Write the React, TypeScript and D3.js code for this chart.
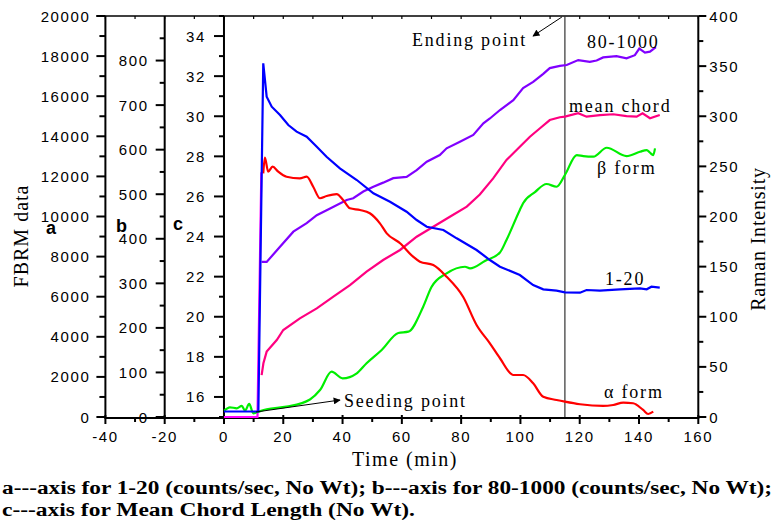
import React from "react";
import * as d3 from "d3";

// ---------- data (time in min, values on each series' own axis) ----------
const xTicks = [-40, -20, 0, 20, 40, 60, 80, 100, 120, 140, 160];
const aTicks = [0, 2000, 4000, 6000, 8000, 10000, 12000, 14000, 16000, 18000, 20000];
const bTicks = [0, 100, 200, 300, 400, 500, 600, 700, 800];
const cTicks = [16, 18, 20, 22, 24, 26, 28, 30, 32, 34];
const rTicks = [0, 50, 100, 150, 200, 250, 300, 350, 400];

// 1-20 counts (axis a)
const series120: [number, number][] = [
  [0, 275], [11.6, 275], [13.25, 17640], [14.4, 15975], [16.1, 15476], [18.9, 15062],
  [21.7, 14564], [24.5, 14230], [27.9, 13980], [31.3, 13481], [34.6, 12982], [39.1, 12404],
  [44.8, 11820], [50.4, 11157], [56.0, 10738], [61.6, 10239], [65.0, 9825], [68.4, 9491],
  [74.0, 9327], [78.5, 8912], [85.2, 8329], [89.7, 7830], [93.1, 7496], [99.8, 7082],
  [104.3, 6583], [107.7, 6368], [112.2, 6299], [115.0, 6219], [120.1, 6199], [122.3, 6334],
  [126.8, 6299], [133.6, 6369], [140.3, 6419], [142.6, 6369], [144.2, 6499], [147.0, 6449],
];

// 80-1000 counts (axis b)
const series801000: [number, number][] = [
  [12.7, 348], [14.4, 348], [18.9, 382], [23.4, 416], [27.9, 435], [31.3, 453], [35.8, 468],
  [41.4, 487], [43.6, 491], [47.0, 506], [50.4, 517], [53.7, 526], [57.1, 536], [61.6, 539],
  [65.0, 554], [68.4, 573], [72.8, 588], [75.1, 603], [79.6, 618], [84.1, 633], [87.5, 659],
  [89.7, 670], [93.1, 689], [97.6, 711], [100.9, 738], [104.3, 752], [107.7, 770], [109.9, 783],
  [113.3, 788], [115.6, 790], [119.5, 801], [123.4, 797], [125.7, 800], [127.9, 807],
  [132.4, 810], [135.8, 805], [138.6, 812], [140.1, 827], [142.0, 818], [143.7, 820], [145.7, 830],
];

// mean chord length (axis c)
const seriesChord: [number, number][] = [
  [12.7, 17.09], [13.3, 17.68], [14.4, 18.26], [17.8, 18.84], [20.0, 19.34], [25.6, 19.92],
  [31.3, 20.42], [36.9, 21.0], [42.5, 21.58], [48.1, 22.25], [53.7, 22.83], [59.4, 23.33],
  [65.0, 23.99], [70.6, 24.49], [76.2, 24.99], [81.9, 25.49], [86.3, 26.1], [90.8, 26.9],
  [95.3, 27.82], [99.8, 28.48], [103.2, 28.98], [106.6, 29.4], [109.9, 29.81], [113.3, 29.95],
  [115.0, 29.98], [119.5, 30.15], [122.3, 29.98], [126.8, 30.06], [131.3, 30.1], [135.8, 30.01],
  [139.2, 29.98], [141.2, 30.15], [143.7, 29.9], [147.0, 30.06],
];
// initial jump segment (axis c)
const seriesJump: [number, number][] = [[0, 15], [11.3, 15], [12.6, 27.2]];

// alpha form Raman intensity
const seriesAlpha: [number, number][] = [
  [13.25, 243], [13.8, 258.7], [14.9, 244.7], [16.4, 249.7], [18.3, 244.7], [21.1, 239.7],
  [25.6, 238.1], [27.9, 239.7], [30.1, 229.7], [32.4, 218.2], [34.6, 220.4], [38.0, 222.4],
  [40.2, 216.5], [42.5, 208.2], [45.9, 206.5], [49.2, 203.2], [52.6, 193.2], [54.9, 183.2],
  [59.4, 173.3], [63.8, 159.9], [66.1, 154.9], [70.6, 151.6], [75.1, 139.9], [80.7, 119.7],
  [85.2, 91.8], [89.7, 73.5], [93.1, 58.6], [97.6, 41.9], [100.9, 41.9], [104.3, 33.6],
  [107.7, 20.2], [112.2, 17.0], [115.0, 15.3], [120.1, 12.7], [127.9, 11.0], [131.3, 12.0],
  [134.7, 14.3], [138.0, 13.7], [141.4, 7.0], [143.1, 3.0], [144.8, 5.3],
];

// beta form Raman intensity
const seriesBeta: [number, number][] = [
  [0.1, 6.3], [2.0, 9.7], [4.3, 8.7], [6.0, 11.0], [7.1, 6.3], [8.5, 13.0], [9.9, 3.7],
  [11.6, 5.3], [14.4, 7.7], [21.1, 10.3], [29.0, 17.5], [32.4, 26.9], [36.3, 45.2], [40.0, 38.6],
  [44.8, 43.6], [48.1, 53.6], [53.2, 66.8], [58.8, 83.8], [62.2, 85.1], [67.2, 110.0],
  [70.0, 129.7], [75.1, 143.3], [81.3, 149.9], [83.0, 148.3], [88.0, 155.6], [93.1, 164.1],
  [95.3, 176.6], [99.8, 206.5], [100.9, 213.2], [104.9, 224.4], [108.8, 232.4], [112.2, 229.7],
  [115.0, 241.4], [119.0, 261.3], [121.2, 260.3], [124.6, 259.7], [129.1, 268.6], [135.8, 260.3],
  [140.3, 264.6], [142.6, 266.3], [143.7, 263.6], [144.8, 261.3], [145.4, 268.0],
];

const endingTime = 115;

const SANS = "'Liberation Sans', Arial, Helvetica, sans-serif";
const SERIF = "'Liberation Serif', 'Times New Roman', serif";

export default function App() {
  const W = 779, H = 521;
  const top = 16, bottom = 417;
  const x = d3.scaleLinear().domain([-40, 160]).range([105.4, 698.3]);
  const yA = d3.scaleLinear().domain([0, 20000]).range([bottom, top]);
  const yB = d3.scaleLinear().domain([0, 900]).range([bottom, top]);
  const yC = d3.scaleLinear().domain([15, 35]).range([bottom, top]);
  const yR = d3.scaleLinear().domain([0, 400]).range([bottom, top]);

  const mk = (ys: d3.ScaleLinear<number, number>, curve = d3.curveLinear) =>
    d3.line<[number, number]>().x((d) => x(d[0])).y((d) => ys(d[1])).curve(curve);

  const xA = x(-40), xB = x(-20), xC = x(0), xR = x(160);

  const tickStyle = { stroke: "#000", strokeWidth: 2 };
  const labelStyle: React.CSSProperties = { fontFamily: SANS, fontSize: 15, letterSpacing: 1.6 };
  const annStyle: React.CSSProperties = { fontFamily: SERIF, fontSize: 18, letterSpacing: 1.8 };
  const letterStyle: React.CSSProperties = { fontFamily: SANS, fontSize: 18, fontWeight: "bold" };

  const minorA = d3.range(1000, 20000, 2000);
  const minorB = d3.range(50, 900, 100);
  const minorC = d3.range(15, 36, 2);
  const minorR = d3.range(25, 400, 50);
  const minorX = d3.range(-30, 160, 20);
  const topTicks = d3.range(-40, 161, 10);

  return (
    <svg width={W} height={H} style={{ position: "absolute", left: 0, top: 0, background: "#fff" }}>
      <defs>
        <marker id="arr" viewBox="0 0 10 10" refX="9" refY="5" markerWidth="9" markerHeight="7" orient="auto-start-reverse" markerUnits="userSpaceOnUse">
          <path d="M0,0 L10,5 L0,10 z" fill="#000" />
        </marker>
      </defs>

      {/* frame lines */}
      <line x1={xA - 9} x2={xR} y1={top} y2={top} stroke="#000" strokeWidth={1.6} />
      <line x1={xA - 1} x2={xR + 1} y1={bottom + 1} y2={bottom + 1} stroke="#000" strokeWidth={2} />
      <line x1={xA} x2={xA} y1={top} y2={bottom + 1} stroke="#000" strokeWidth={2} />
      <line x1={xB} x2={xB} y1={top} y2={bottom + 1} stroke="#000" strokeWidth={2} />
      <line x1={xC} x2={xC} y1={top} y2={bottom + 1} stroke="#000" strokeWidth={2} />
      <line x1={xR} x2={xR} y1={top} y2={bottom + 1} stroke="#000" strokeWidth={2} />

      {/* top ticks */}
      {topTicks.map((t) => (
        <line key={"tt" + t} x1={x(t)} x2={x(t)} y1={top} y2={top + 3} stroke="#000" strokeWidth={1.2} />
      ))}

      {/* bottom axis */}
      {xTicks.map((t) => (
        <g key={"xt" + t}>
          <line x1={x(t)} x2={x(t)} y1={bottom - 2} y2={bottom + 7} {...tickStyle} />
          <text x={x(t)} y={442} textAnchor="middle" style={labelStyle}>{t}</text>
        </g>
      ))}
      {minorX.map((t) => (
        <line key={"xm" + t} x1={x(t)} x2={x(t)} y1={bottom} y2={bottom + 5} {...tickStyle} />
      ))}

      {/* axis a */}
      {aTicks.map((v) => (
        <g key={"a" + v}>
          <line x1={xA - 9} x2={xA} y1={yA(v)} y2={yA(v)} {...tickStyle} />
          <text x={xA - 15} y={yA(v) + 5.5} textAnchor="end" style={labelStyle}>{v}</text>
        </g>
      ))}
      {minorA.map((v) => (
        <line key={"am" + v} x1={xA - 6} x2={xA} y1={yA(v)} y2={yA(v)} {...tickStyle} />
      ))}

      {/* axis b */}
      {bTicks.map((v) => (
        <g key={"b" + v}>
          <line x1={xB - 9} x2={xB} y1={yB(v)} y2={yB(v)} {...tickStyle} />
          <text x={xB - 16} y={yB(v) + 5.5} textAnchor="end" style={labelStyle}>{v}</text>
        </g>
      ))}
      {minorB.map((v) => (
        <line key={"bm" + v} x1={xB - 5} x2={xB} y1={yB(v)} y2={yB(v)} {...tickStyle} />
      ))}

      {/* axis c */}
      {cTicks.map((v) => (
        <g key={"c" + v}>
          <line x1={xC - 10} x2={xC} y1={yC(v)} y2={yC(v)} {...tickStyle} />
          <text x={xC - 18} y={yC(v) + 5.5} textAnchor="end" style={labelStyle}>{v}</text>
        </g>
      ))}
      {minorC.map((v) => (
        <line key={"cm" + v} x1={xC - 5} x2={xC} y1={yC(v)} y2={yC(v)} {...tickStyle} />
      ))}

      {/* right axis */}
      {rTicks.map((v) => (
        <g key={"r" + v}>
          <line x1={xR} x2={xR + 8} y1={yR(v)} y2={yR(v)} {...tickStyle} />
          <text x={xR + 11} y={yR(v) + 5.5} textAnchor="start" style={labelStyle}>{v}</text>
        </g>
      ))}
      {minorR.map((v) => (
        <line key={"rm" + v} x1={xR} x2={xR + 5} y1={yR(v)} y2={yR(v)} {...tickStyle} />
      ))}

      {/* axis letters */}
      <text x={46} y={234} style={letterStyle}>a</text>
      <text x={116} y={232} style={letterStyle}>b</text>
      <text x={173} y={230} style={letterStyle}>c</text>

      {/* axis titles */}
      <text transform="translate(28,236) rotate(-90)" textAnchor="middle" style={{ fontFamily: SERIF, fontSize: 20, letterSpacing: 1 }}>FBRM data</text>
      <text transform="translate(765,239) rotate(-90)" textAnchor="middle" style={{ fontFamily: SERIF, fontSize: 20, letterSpacing: 0.8 }}>Raman Intensity</text>
      <text x={405} y={466} textAnchor="middle" style={{ fontFamily: SERIF, fontSize: 20, letterSpacing: 1.5 }}>Time (min)</text>

      {/* ending point line */}
      <line x1={x(endingTime)} x2={x(endingTime)} y1={top} y2={bottom} stroke="#333" strokeWidth={1.2} />

      {/* series */}
      <path d={mk(yC)(seriesJump) || ""} fill="none" stroke="#ff00ff" strokeWidth={2.2} />
      <path d={mk(yR, d3.curveMonotoneX)(seriesBeta) || ""} fill="none" stroke="#00ee00" strokeWidth={2.2} />
      <path d={mk(yC)(seriesChord) || ""} fill="none" stroke="#ff0080" strokeWidth={2.2} />
      <path d={mk(yB)(series801000) || ""} fill="none" stroke="#8000ff" strokeWidth={2.2} />
      <path d={mk(yR, d3.curveMonotoneX)(seriesAlpha) || ""} fill="none" stroke="#ff0000" strokeWidth={2.2} />
      <path d={mk(yA)(series120) || ""} fill="none" stroke="#0000ff" strokeWidth={2.2} />

      {/* annotations */}
      <line x1={x(endingTime) - 3} y1={top + 1} x2={533} y2={36} stroke="#000" strokeWidth={1} markerEnd="url(#arr)" />
      <text x={412} y={46} style={annStyle}>Ending point</text>
      <text x={587} y={48} style={annStyle}>80-1000</text>
      <text x={569} y={112} style={annStyle}>mean chord</text>
      <text x={597} y={174} style={annStyle}>β form</text>
      <text x={605} y={285} style={annStyle}>1-20</text>
      <text x={604} y={398} style={annStyle}>α form</text>
      <line x1={256} y1={412} x2={340} y2={400} stroke="#000" strokeWidth={1} markerEnd="url(#arr)" />
      <text x={344} y={407} style={annStyle}>Seeding point</text>

      {/* caption */}
      <text x={2} y={494} textLength={770} lengthAdjust="spacingAndGlyphs" style={{ fontFamily: SERIF, fontSize: 18, fontWeight: "bold" }}>
        a---axis for 1-20 (counts/sec, No Wt); b---axis for 80-1000 (counts/sec, No Wt);
      </text>
      <text x={2} y={516} textLength={413} lengthAdjust="spacingAndGlyphs" style={{ fontFamily: SERIF, fontSize: 18, fontWeight: "bold" }}>
        c---axis for Mean Chord Length (No Wt).
      </text>
    </svg>
  );
}
